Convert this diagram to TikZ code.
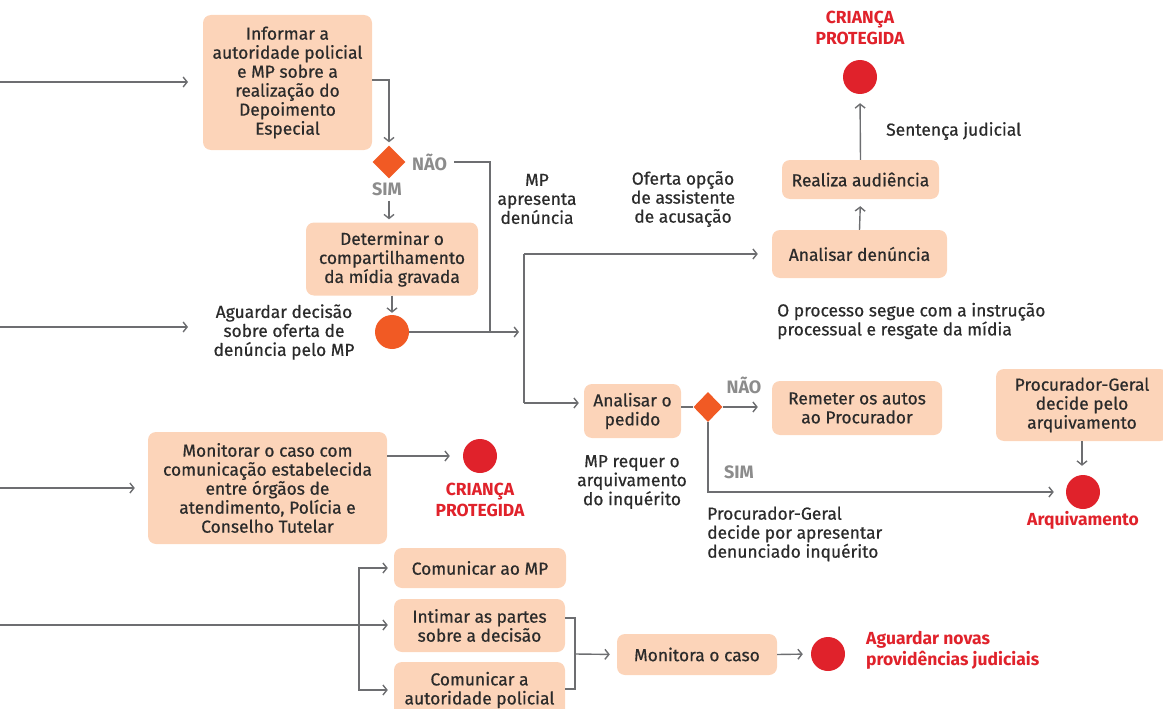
\documentclass[tikz,border=0pt]{standalone}
\usepackage{fontspec}
\setmainfont{Fira Sans}[UprightFeatures={FakeBold=0.6}]
\usetikzlibrary{arrows.meta,shapes.geometric}
\definecolor{peach}{HTML}{FCD4B9}
\definecolor{orng}{HTML}{F15A24}
\definecolor{redc}{HTML}{E0222B}
\definecolor{linec}{HTML}{6D6E71}
\definecolor{txt}{HTML}{2B2B2B}
\definecolor{gry}{HTML}{8C8C8C}
\begin{document}
\begin{tikzpicture}[x=1pt,y=-1pt,
 every node/.style={font=\fontsize{17.4}{19}\selectfont, text=txt},
 box/.style={fill=peach, rounded corners=8pt, align=center, inner sep=0pt},
 lbl/.style={align=center, inner sep=0pt},
 lbll/.style={align=left, inner sep=0pt},
 yn/.style={text=gry, font=\fontsize{18}{19}\selectfont\bfseries, inner sep=1pt},
 rlbl/.style={text=redc, font=\fontsize{17.5}{20.5}\selectfont\bfseries, align=center, inner sep=0pt},
 dot/.style={circle, minimum size=34pt, inner sep=0pt},
 dia/.style={diamond, fill=orng, inner sep=0pt, minimum width=33pt, minimum height=33pt},
 ln/.style={draw=linec, line width=1.4pt},
 conn/.style={ln, -{Straight Barb[length=4pt,width=10pt]}},
]
\useasboundingbox (0,0) rectangle (1163,709);

% top-left
\node[box, minimum width=169pt, minimum height=135pt] (inf) at (287.5,82.5) {Informar a\\autoridade policial\\e MP sobre a\\realização do\\Depoimento\\Especial};
\coordinate (a1s) at (0,82); \coordinate (a1e) at (188,82);
\draw[conn] (a1s) -- (a1e);
\node[dia] (d1) at (389,162) {};
\draw[conn, shorten >=3pt] ([yshift=2.5pt]inf.east) -| (d1.north);
\node[yn, anchor=west] (nao1) at (411,162) {NÃO};
\coordinate (j1) at (490,332);
\draw[ln, shorten <=6pt] (nao1.east) -| (j1);
\node[yn] (sim1) at (387,189) {SIM};
\node[box, minimum width=172pt, minimum height=73pt] (det) at (392,259) {Determinar o\\compartilhamento\\da mídia gravada};
\draw[conn, shorten <=4pt, shorten >=3pt] ([xshift=2pt]sim1.south) -- ([xshift=2pt]sim1.south |- det.north);
\node[dot, fill=orng] (c1) at (392,332) {};
\draw[conn, shorten >=2pt] (det.south) -- (c1.north);
\node[lbl] (agu) at (284,332) {Aguardar decisão\\sobre oferta de\\denúncia pelo MP};
\coordinate (a2s) at (0,327); \coordinate (a2e) at (188,327);
\draw[conn] (a2s) -- (a2e);
\coordinate (vm) at (519,332);
\draw[conn] (c1.east) -- (vm);
\coordinate (vt) at (524,254); \coordinate (vb) at (524,403);
\draw[ln] (vt) -- (vb);

% top-right
\node[box, minimum width=175pt, minimum height=48pt] (anden) at (859.5,254) {Analisar denúncia};
\draw[conn, shorten >=14pt] (vt) -- (anden.west);
\node[lbl] (mpap) at (537,199) {MP\\apresenta\\denúncia};
\node[lbl] (ofer) at (683,199) {Oferta opção\\de assistente\\de acusação};
\node[box, minimum width=157pt, minimum height=39pt] (real) at (860.5,179.5) {Realiza audiência};
\draw[conn, shorten >=7pt] (anden.north) -- (real.south);
\node[dot, fill=redc] (c2) at (860,77) {};
\draw[conn, shorten >=9pt] (real.north) -- (c2.south);
\node[rlbl] (cp1) at (860,28) {CRIANÇA\\PROTEGIDA};
\node[lbll, anchor=west] (sent) at (886,131) {Sentença judicial};
\node[lbll, anchor=west] (proc) at (777,321) {O processo segue com a instrução\\processual e resgate da mídia};

% middle row
\node[box, minimum width=97pt, minimum height=54pt] (anped) at (632.5,411) {Analisar o\\pedido};
\draw[conn, shorten >=5pt] (vb) -- (vb -| anped.west);
\node[dia, minimum width=29pt, minimum height=30pt] (d2) at (708,407) {};
\draw[ln] (d2.west -| anped.east) -- (d2.west);
\node[yn] (nao2) at (744,385) {NÃO};
\node[box, minimum width=170pt, minimum height=54pt] (rem) at (857,408) {Remeter os autos\\ao Procurador};
\draw[conn, shorten >=14pt] (d2.east) -- (d2.east -| rem.west);
\node[dot, fill=redc] (c3) at (1083,492) {};
\draw[conn, shorten >=12pt] (d2.south) |- (c3.west);
\node[yn] (sim2) at (739,472) {SIM};
\node[rlbl] (arq) at (1083,520) {Arquivamento};
\node[box, minimum width=172pt, minimum height=72pt] (pg) at (1082,405) {Procurador-Geral\\decide pelo\\arquivamento};
\draw[conn, shorten >=9pt] (pg.south) -- (pg.south |- c3.north);
\node[lbl] (mpreq) at (632,482) {MP requer o\\arquivamento\\do inquérito};
\node[lbll, anchor=west] (pgap) at (707,534) {Procurador-Geral\\decide por apresentar\\denunciado inquérito};

% monitor row
\node[box, minimum width=239pt, minimum height=112pt] (mon) at (267.5,488) {Monitorar o caso com\\comunicação estabelecida\\entre órgãos de\\atendimento, Polícia e\\Conselho Tutelar};
\coordinate (a3s) at (0,488);
\draw[conn, shorten >=13pt] (a3s) -- (mon.west);
\node[dot, fill=redc] (c4) at (480,456) {};
\draw[conn, shorten >=13pt] (mon.east |- c4) -- (c4.west);
\node[rlbl] (cp2) at (480,500) {CRIANÇA\\PROTEGIDA};

% bottom row
\node[box, minimum width=172pt, minimum height=40pt] (cmp) at (480,568) {Comunicar ao MP};
\node[box, minimum width=171pt, minimum height=53pt] (int) at (479.5,625.5) {Intimar as partes\\sobre a decisão};
\node[box, minimum width=171pt, minimum height=56pt] (cap) at (479.5,690) {Comunicar a\\autoridade policial};
\coordinate (a4s) at (0,625);
\draw[conn, shorten >=6pt] (a4s) -- (int.west |- a4s);
\coordinate (br) at (359,625);
\draw[conn, shorten >=6pt] (br) |- (cmp.west);
\draw[conn, shorten >=6pt] (br) |- (cap.west);
\node[box, minimum width=160pt, minimum height=41pt] (mcs) at (697,654.5) {Monitora o caso};
\coordinate (bt) at (575,618); \coordinate (bb) at (575,689); \coordinate (br2) at (575,654);
\draw[ln] (bt -| int.east) -- (bt) -- (bb) -- (bb -| cap.east);
\draw[conn, shorten >=7pt] (br2) -- (mcs.west);
\node[dot, fill=redc] (c5) at (828,654) {};
\draw[conn, shorten >=8pt] (mcs.east) -- (c5.west);
\node[rlbl, align=left, anchor=west] (agn) at (866,650.5) {Aguardar novas\\providências judiciais};
\end{tikzpicture}
\end{document}
